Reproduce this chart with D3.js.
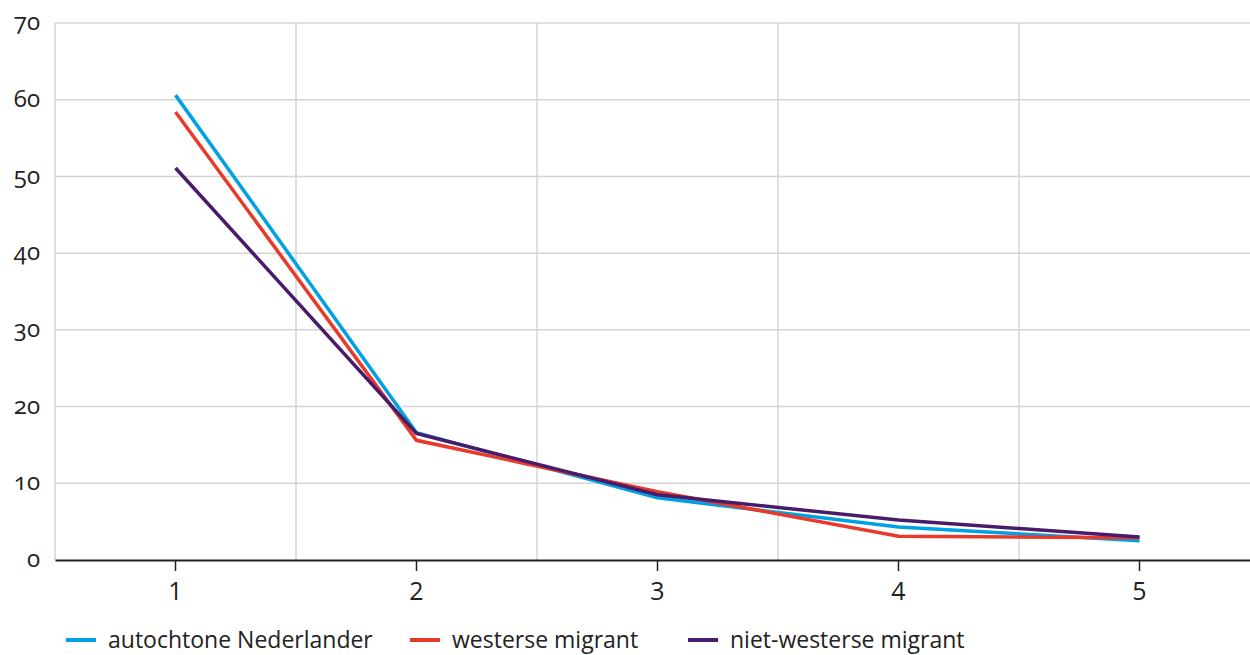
<!DOCTYPE html>
<html><head><meta charset="utf-8">
<script src="https://cdn.jsdelivr.net/npm/d3@7"></script>
<style>body{margin:0;background:#fff;}svg{display:block;font-family:"Open Sans",sans-serif;}</style>
</head><body><svg id="c" width="1250" height="655"></svg>
<script>
const categories = ["1","2","3","4","5"];
const yTicks = [0,10,20,30,40,50,60,70];
const seriesNames = ["autochtone Nederlander","westerse migrant","niet-westerse migrant"];
const seriesColors = ["#00a1e4","#e8392a","#481b6b"];
const autochtone = [60.6, 16.6, 8.1, 4.3, 2.5];
const westerse = [58.4, 15.6, 8.9, 3.1, 2.9];
const nietWesterse = [51.1, 16.5, 8.5, 5.2, 3.0];
const allSeries = [autochtone, westerse, nietWesterse];

const svg = d3.select("#c");
const x = d3.scaleBand().domain(categories).range([55, 1260]);
const y = d3.scaleLinear().domain([0,70]).range([560, 23]);

// horizontal grid
svg.append("g").selectAll("line").data(yTicks.filter(d=>d>0)).join("line")
  .attr("x1",55).attr("x2",1260).attr("y1",d=>y(d)).attr("y2",d=>y(d))
  .attr("stroke","#d4d4d4").attr("stroke-width",1.5);
// vertical grid at band boundaries
svg.append("g").selectAll("line").data(categories).join("line")
  .attr("x1",d=>x(d)).attr("x2",d=>x(d)).attr("y1",y(70)).attr("y2",y(0))
  .attr("stroke","#d4d4d4").attr("stroke-width",1.5);

// y labels
svg.append("g").selectAll("text").data(yTicks).join("text")
  .attr("x",40).attr("y",d=>y(d)).attr("dy","0.3em").attr("text-anchor","end")
  .attr("font-size",24).attr("fill","#222")
  .style("font-feature-settings","'onum' 1").text(d=>d);

// x axis
const xAxis = d3.axisBottom(x).tickSize(11).tickPadding(11).tickSizeOuter(0);
const gx = svg.append("g").attr("transform",`translate(0,${y(0)})`).call(xAxis);
gx.select(".domain").attr("stroke","#222").attr("stroke-width",2);
gx.selectAll(".tick line").attr("stroke","#222").attr("stroke-width",1.5);
gx.selectAll(".tick text").attr("font-size",25).attr("fill","#222").attr("font-family","'Open Sans',sans-serif");

// lines
const line = d3.line().x((d,i)=>x(categories[i])+x.bandwidth()/2).y(d=>y(d));
svg.append("g").selectAll("path").data(allSeries).join("path")
  .attr("d",line).attr("fill","none")
  .attr("stroke",(d,i)=>seriesColors[i]).attr("stroke-width",3.5)
  .attr("stroke-linejoin","miter");

// legend
const legX = [66, 410, 688];
const lg = svg.append("g").selectAll("g").data(seriesNames).join("g")
  .attr("transform",(d,i)=>`translate(${legX[i]},640)`);
lg.append("line").attr("x1",0).attr("x2",30).attr("y1",0).attr("y2",0)
  .attr("stroke",(d,i)=>seriesColors[i]).attr("stroke-width",4);
lg.append("text").attr("x",42).attr("dy","0.35em").attr("font-size",23).attr("fill","#222").text(d=>d);
</script></body></html>
